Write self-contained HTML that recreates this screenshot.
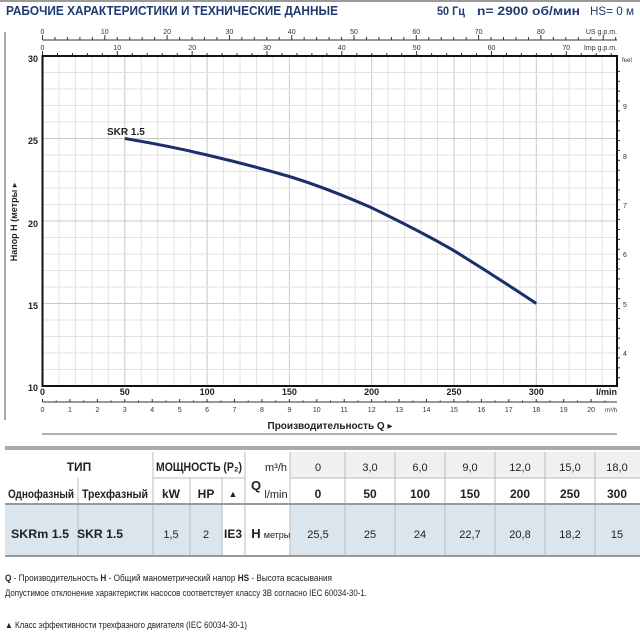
<!DOCTYPE html>
<html><head><meta charset="utf-8"><style>
body{margin:0;background:#fff;}
svg{display:block;font-family:"Liberation Sans","DejaVu Sans",sans-serif;}
</style></head><body>
<svg id="s" width="640" height="640" viewBox="0 0 640 640" xmlns="http://www.w3.org/2000/svg">
<rect width="640" height="640" fill="#fff"/>
<line x1="0" y1="1" x2="640" y2="1" stroke="#999" stroke-width="2"/>
<text x="6" y="15" font-size="13" font-weight="bold" fill="#1f3a6e" textLength="332" lengthAdjust="spacingAndGlyphs">РАБОЧИЕ ХАРАКТЕРИСТИКИ И ТЕХНИЧЕСКИЕ ДАННЫЕ</text>
<text x="437" y="15" font-size="12" font-weight="bold" fill="#1f3a6e" textLength="28" lengthAdjust="spacingAndGlyphs">50 Гц</text>
<text x="477" y="15" font-size="12" font-weight="bold" fill="#1f3a6e" textLength="103" lengthAdjust="spacingAndGlyphs">n= 2900 об/мин</text>
<text x="590" y="15" font-size="12" fill="#1f3a6e" textLength="44" lengthAdjust="spacingAndGlyphs">HS= 0 м</text>
<line x1="5" y1="32" x2="5" y2="420" stroke="#555" stroke-width="1"/>
<g id="grid"></g>
<g id="ticks" stroke="#333" stroke-width="1"></g>
<rect x="42.5" y="56" width="574.5" height="330" fill="none" stroke="#111" stroke-width="2"/>
<path d="M124.8,138.5 C152,143 180,148.5 207.1,155 C235,161.5 262,168.5 289.4,176.5 C317,185 345,196 371.7,207.8 C399,221 427,235 454,250.7 C482,268 510,286 536.3,303.5" fill="none" stroke="#1b2f6a" stroke-width="3"/>
<text x="107" y="135" font-size="10" font-weight="bold" fill="#222">SKR 1.5</text>
<g font-size="9" font-weight="bold" fill="#222" text-anchor="end">
<text x="38" y="62">30</text><text x="38" y="144">25</text><text x="38" y="227">20</text><text x="38" y="309">15</text><text x="38" y="391">10</text>
</g>
<text transform="translate(17,222) rotate(-90)" font-size="9" font-weight="bold" fill="#222" text-anchor="middle">Напор H (метры ▸</text>
<g font-size="9" font-weight="bold" fill="#222" text-anchor="middle">
<text x="42.5" y="395">0</text><text x="124.8" y="395">50</text><text x="207.1" y="395">100</text><text x="289.4" y="395">150</text><text x="371.7" y="395">200</text><text x="454" y="395">250</text><text x="536.3" y="395">300</text>
</g>
<text x="617" y="395" font-size="9" font-weight="bold" fill="#222" text-anchor="end">l/min</text>
<g font-size="7" fill="#333" text-anchor="middle">
<text x="42.5" y="412">0</text><text x="69.9" y="412">1</text><text x="97.4" y="412">2</text><text x="124.8" y="412">3</text><text x="152.2" y="412">4</text><text x="179.7" y="412">5</text><text x="207.1" y="412">6</text><text x="234.5" y="412">7</text><text x="261.9" y="412">8</text><text x="289.4" y="412">9</text><text x="316.8" y="412">10</text><text x="344.2" y="412">11</text><text x="371.7" y="412">12</text><text x="399.1" y="412">13</text><text x="426.5" y="412">14</text><text x="454" y="412">15</text><text x="481.4" y="412">16</text><text x="508.8" y="412">17</text><text x="536.3" y="412">18</text><text x="563.7" y="412">19</text><text x="591.1" y="412">20</text>
</g>
<text x="617" y="412" font-size="6" fill="#333" text-anchor="end">m³/h</text>
<g font-size="7" fill="#333" text-anchor="middle">
<text x="42.5" y="34">0</text><text x="104.8" y="34">10</text><text x="167.1" y="34">20</text><text x="229.4" y="34">30</text><text x="291.7" y="34">40</text><text x="354" y="34">50</text><text x="416.3" y="34">60</text><text x="478.6" y="34">70</text><text x="540.9" y="34">80</text>
<text x="42.5" y="50">0</text><text x="117.3" y="50">10</text><text x="192.2" y="50">20</text><text x="267" y="50">30</text><text x="341.8" y="50">40</text><text x="416.7" y="50">50</text><text x="491.5" y="50">60</text><text x="566.3" y="50">70</text>
</g>
<text x="617" y="34" font-size="7" fill="#333" text-anchor="end">US g.p.m.</text>
<text x="617" y="50" font-size="7" fill="#333" text-anchor="end">Imp g.p.m.</text>
<text x="622" y="62" font-size="6" fill="#333">feet</text>
<g font-size="7" fill="#333">
<text x="623" y="109">9</text><text x="623" y="159">8</text><text x="623" y="208">7</text><text x="623" y="257">6</text><text x="623" y="307">5</text><text x="623" y="356">4</text>
</g>
<text x="330" y="429" font-size="10" font-weight="bold" fill="#222" text-anchor="middle">Производительность Q ▸</text>
<line x1="42" y1="434" x2="617" y2="434" stroke="#666" stroke-width="1"/>
<rect x="5" y="446" width="635" height="4" fill="#aaa"/>
<rect x="290" y="452" width="350" height="26" fill="#eef0f2"/>
<rect x="5" y="505" width="635" height="51" fill="#dbe5ed"/>
<rect x="222" y="505" width="23" height="51" fill="#fff"/>
<rect x="245" y="505" width="45" height="51" fill="#fff"/>
<g stroke="#bbb" stroke-width="1">
<line x1="153" y1="452" x2="153" y2="556"/><line x1="245" y1="452" x2="245" y2="556"/><line x1="290" y1="452" x2="290" y2="556"/>
<line x1="78" y1="478" x2="78" y2="556"/><line x1="190" y1="478" x2="190" y2="556"/><line x1="222" y1="478" x2="222" y2="556"/>
<line x1="345" y1="452" x2="345" y2="556"/><line x1="395" y1="452" x2="395" y2="556"/><line x1="445" y1="452" x2="445" y2="556"/><line x1="495" y1="452" x2="495" y2="556"/><line x1="545" y1="452" x2="545" y2="556"/><line x1="595" y1="452" x2="595" y2="556"/>
<line x1="153" y1="478" x2="245" y2="478"/><line x1="290" y1="478" x2="640" y2="478"/>
<line x1="5" y1="504" x2="640" y2="504" stroke="#999" stroke-width="2"/>
<line x1="5" y1="556" x2="640" y2="556" stroke="#999" stroke-width="2"/>
</g>
<g font-size="12" font-weight="bold" fill="#222" text-anchor="middle">
<text x="79" y="471">ТИП</text>
<text x="199" y="471" textLength="86" lengthAdjust="spacingAndGlyphs">МОЩНОСТЬ (P₂)</text>
<text x="41" y="498" textLength="66" lengthAdjust="spacingAndGlyphs">Однофазный</text>
<text x="115" y="498" textLength="66" lengthAdjust="spacingAndGlyphs">Трехфазный</text>
<text x="171" y="498">kW</text><text x="206" y="498">HP</text><text x="233" y="497" font-size="9">▲</text>
<text x="256" y="490" font-size="13">Q</text>
<text x="318" y="498">0</text><text x="370" y="498">50</text><text x="420" y="498">100</text><text x="470" y="498">150</text><text x="520" y="498">200</text><text x="570" y="498">250</text><text x="617" y="498">300</text>
<text x="40" y="538" textLength="58" lengthAdjust="spacingAndGlyphs">SKRm 1.5</text><text x="100" y="538" textLength="46" lengthAdjust="spacingAndGlyphs">SKR 1.5</text>
<text x="256" y="538" font-size="13">H</text>
<text x="233" y="538" textLength="18" lengthAdjust="spacingAndGlyphs">IE3</text>
</g>
<g font-size="11" fill="#222" text-anchor="middle">
<text x="276" y="471">m³/h</text><text x="276" y="498">l/min</text>
<text x="318" y="471">0</text><text x="370" y="471">3,0</text><text x="420" y="471">6,0</text><text x="470" y="471">9,0</text><text x="520" y="471">12,0</text><text x="570" y="471">15,0</text><text x="617" y="471">18,0</text>
<text x="171" y="538">1,5</text><text x="206" y="538">2</text><text x="277" y="538" font-size="9">метры</text>
<text x="318" y="538">25,5</text><text x="370" y="538">25</text><text x="420" y="538">24</text><text x="470" y="538">22,7</text><text x="520" y="538">20,8</text><text x="570" y="538">18,2</text><text x="617" y="538">15</text>
</g>
<g font-size="9" fill="#222">
<text x="5" y="581" textLength="327" lengthAdjust="spacingAndGlyphs"><tspan font-weight="bold">Q</tspan> - Производительность   <tspan font-weight="bold">H</tspan> - Общий манометрический напор   <tspan font-weight="bold">HS</tspan> - Высота всасывания</text>
<text x="5" y="596" textLength="362" lengthAdjust="spacingAndGlyphs">Допустимое отклонение характеристик насосов соответствует классу 3B согласно IEC 60034-30-1.</text>
<text x="5" y="628" textLength="242" lengthAdjust="spacingAndGlyphs">▲  Класс эффективности трехфазного двигателя (IEC 60034-30-1)</text>
</g>
</svg>
<script>
var NS="http://www.w3.org/2000/svg";
function L(g,x1,y1,x2,y2,c,w){var l=document.createElementNS(NS,"line");l.setAttribute("x1",x1);l.setAttribute("y1",y1);l.setAttribute("x2",x2);l.setAttribute("y2",y2);if(c)l.setAttribute("stroke",c);if(w)l.setAttribute("stroke-width",w);g.appendChild(l);}
var g=document.getElementById("grid"),t=document.getElementById("ticks");
for(var q=10;q<=350;q+=10){var x=42.5+q*1.646;if(x>616)break;L(g,x,56,x,386,q%50==0?"#c8c8c8":"#e2e2e2",1);}
for(var h=11;h<30;h++){var y=56+(30-h)*16.5;L(g,42.5,y,617,y,h%5==0?"#c8c8c8":"#e2e2e2",1);}
L(t,42.5,40,617,40);
for(var u=0;u<=92;u+=2){var x=42.5+u*6.23;if(x>617)break;L(t,x,40,x,u%10==0?35:37);}
L(t,42.5,56,617,56);
for(var i=0;i<=76;i+=2){var x=42.5+i*7.483;if(x>617)break;L(t,x,56,x,i%10==0?51:53);}
L(t,42.5,402,617,402);
for(var m=0;m<=21;m+=0.5){var x=42.5+m*27.43;if(x>617)break;L(t,x,402,x,m%1==0?399:400.5);}
for(var f=3.3;f<=9.8;f+=0.2){var y=106+(9-f)*49.4;if(y<57||y>385)continue;var major=Math.abs(f-Math.round(f))<0.01;L(t,617,y,major?622:620,y);}
</script>
</body></html>
